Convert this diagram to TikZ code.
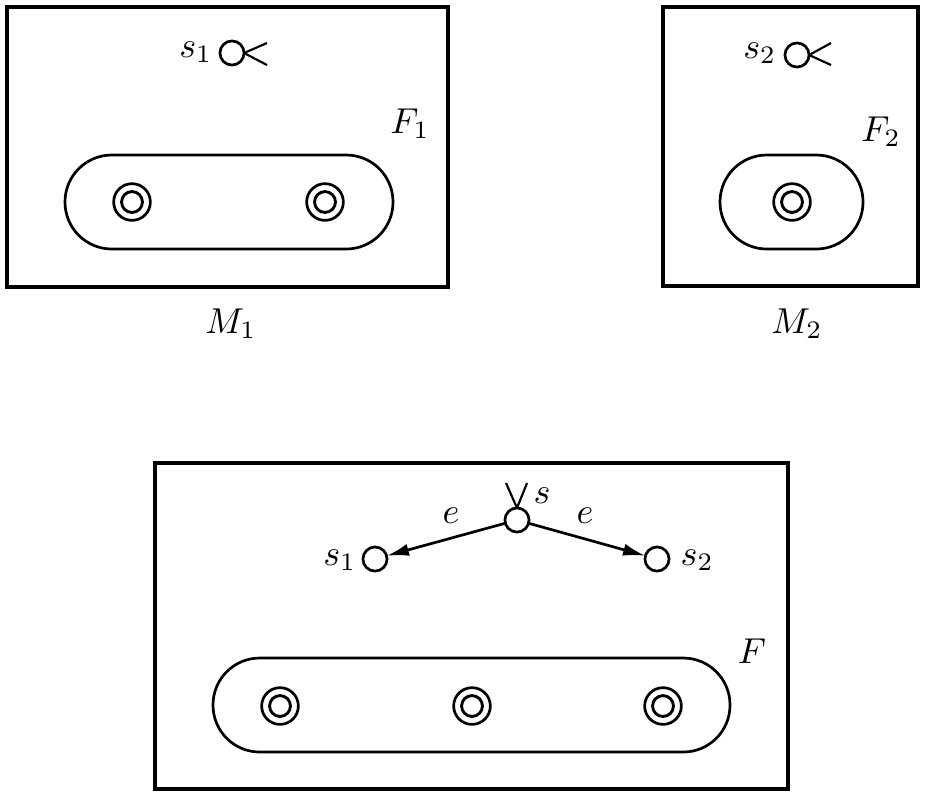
\documentclass[tikz,border=0pt]{standalone}
\usetikzlibrary{arrows.meta}
\tikzset{
  frame/.style={draw, line width=1pt},
  pill/.style={draw, line width=0.75pt, rounded corners=13pt},
  dot/.style={circle, draw, line width=0.75pt, minimum size=6.7pt, inner sep=0pt, outer sep=0pt},
  ring/.style={circle, draw, line width=0.75pt, minimum size=10.2pt, inner sep=0pt,
    path picture={\draw[line width=0.8pt] (path picture bounding box.center) circle (2.9pt);}},
  stub/.style={line width=0.6pt},
  arr/.style={line width=0.75pt, -{Latex[length=6.2pt,width=3.4pt]}},
  lbl/.style={inner sep=0pt}
}
\begin{document}
\begin{tikzpicture}[x=0.2778pt, y=-0.2778pt]
\useasboundingbox (0,0) rectangle (926,795);
% ---- M1 ----
\draw[frame] (7,7) rectangle (448,287);
\node[dot] (a1) at (232,53) {};
\coordinate (a1u) at (267,43);
\coordinate (a1d) at (267,65);
\draw[stub] (a1.east) -- (a1u);
\draw[stub] (a1.east) -- (a1d);
\node[lbl, anchor=base east] (la1) at (213,57) {$s_1$};
\node[lbl, anchor=base] (lF1) at (410,133) {$F_1$};
\draw[pill] (65,155) rectangle (393,249);
\node[ring] (r11) at (132,202) {};
\node[ring] (r12) at (325,202) {};
\node[lbl, anchor=base] (lM1) at (231,333) {$M_1$};
% ---- M2 ----
\draw[frame] (663,7) rectangle (918,286);
\node[dot] (a2) at (797,55) {};
\coordinate (a2u) at (831,43);
\coordinate (a2d) at (831,65);
\draw[stub] (a2.east) -- (a2u);
\draw[stub] (a2.east) -- (a2d);
\node[lbl, anchor=base east] (la2) at (777,58) {$s_2$};
\node[lbl, anchor=base] (lF2) at (881,141) {$F_2$};
\draw[pill] (720,155) rectangle (863,249);
\node[ring] (r21) at (792,202) {};
\node[lbl, anchor=base] (lM2) at (797,333) {$M_2$};
% ---- F ----
\draw[frame] (155,463) rectangle (788,789);
\node[dot] (s) at (517,520) {};
\node[dot] (b1) at (375,559) {};
\node[dot] (b2) at (657,559) {};
\coordinate (vl) at (506,483);
\coordinate (vr) at (527,483);
\draw[stub] (s.north) -- (vl);
\draw[stub] (s.north) -- (vr);
\draw[arr] (s) -- (b1);
\draw[arr] (s) -- (b2);
\node[lbl, anchor=base west] (ls) at (533,503) {$s$};
\node[lbl, anchor=base east] (lb1) at (357,565) {$s_1$};
\node[lbl, anchor=base west] (lb2) at (680,565) {$s_2$};
\node[lbl, anchor=base] (le1) at (451,523) {$e$};
\node[lbl, anchor=base] (le2) at (585,523) {$e$};
\node[lbl, anchor=base] (lF) at (752,663) {$F$};
\draw[pill] (213,658) rectangle (730,752);
\node[ring] (r1) at (280,706) {};
\node[ring] (r2) at (472,706) {};
\node[ring] (r3) at (663,706) {};
\end{tikzpicture}
\end{document}
